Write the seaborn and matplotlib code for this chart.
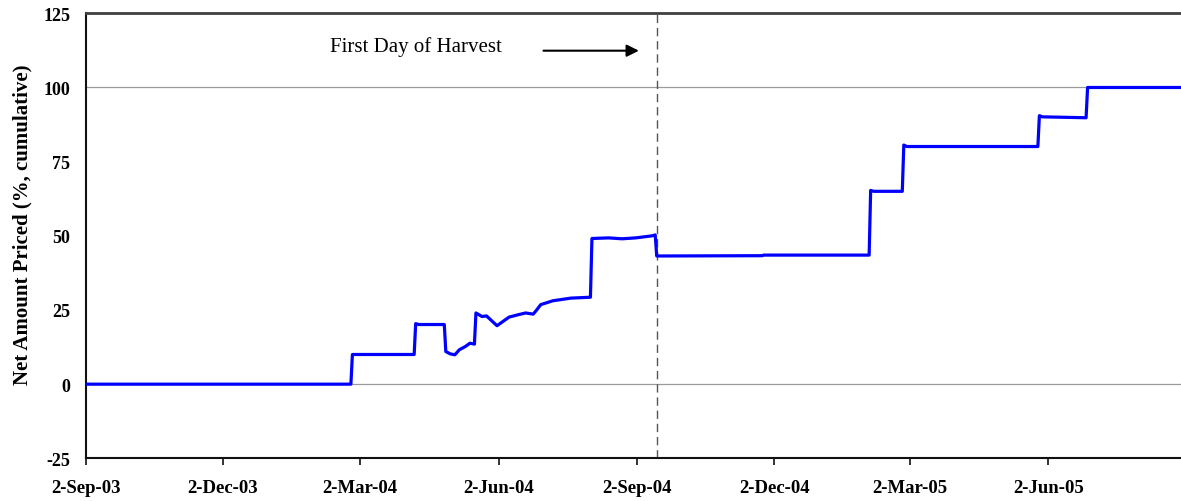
import pandas as pd
import matplotlib
matplotlib.use("Agg")
import matplotlib.pyplot as plt
import seaborn as sns

# cumulative net amount priced
dates = ["2003-09-02", "2004-02-25", "2004-02-26", "2004-04-07", "2004-04-08",
         "2004-04-10", "2004-04-27", "2004-04-28", "2004-05-01", "2004-05-04",
         "2004-05-07", "2004-05-11", "2004-05-14", "2004-05-17", "2004-05-18",
         "2004-05-22", "2004-05-25", "2004-06-01", "2004-06-04", "2004-06-09",
         "2004-06-15", "2004-06-20", "2004-06-25", "2004-06-27", "2004-06-30",
         "2004-07-08", "2004-07-20", "2004-08-02", "2004-08-03", "2004-08-14",
         "2004-08-23", "2004-09-01", "2004-09-12", "2004-09-14", "2004-09-15",
         "2004-11-24", "2004-11-25", "2005-02-03", "2005-02-04", "2005-02-06",
         "2005-02-25", "2005-02-26", "2005-02-28", "2005-05-26", "2005-05-27",
         "2005-05-29", "2005-06-27", "2005-06-28", "2005-08-31"]
amount = [0, 0, 10, 10, 20.4,
          20.1, 20.1, 11.0, 10.2, 9.9,
          11.6, 12.7, 13.8, 13.5, 24.0,
          22.8, 23.0, 19.7, 20.8, 22.6,
          23.4, 24.0, 23.6, 24.8, 26.8,
          28.1, 29.0, 29.3, 49.1, 49.3,
          49.0, 49.3, 50.0, 50.3, 43.2,
          43.3, 43.5, 43.5, 65.3, 65.0,
          65.0, 80.6, 80.1, 80.1, 90.5,
          90.1, 89.8, 100, 100]

tick_dates = ["2003-09-02", "2003-12-02", "2004-03-02", "2004-06-02",
              "2004-09-02", "2004-12-02", "2005-03-02", "2005-06-02"]
tick_labels = ["2-Sep-03", "2-Dec-03", "2-Mar-04", "2-Jun-04",
               "2-Sep-04", "2-Dec-04", "2-Mar-05", "2-Jun-05"]
y_ticks = [-25, 0, 25, 50, 75, 100, 125]

harvest_day = "2004-09-15"

df = pd.DataFrame({"Date": pd.to_datetime(dates), "Priced": amount})

sns.set_style("white")
plt.rcParams['font.family'] = ['Liberation Serif', 'DejaVu Serif']
plt.rcParams['text.color'] = 'black'
plt.rcParams['axes.labelcolor'] = 'black'
plt.rcParams['xtick.color'] = 'black'
plt.rcParams['ytick.color'] = 'black'

fig = plt.figure(figsize=(11.81, 5.02), dpi=100)
ax = fig.add_axes([0.0726, 0.085, 0.9274, 0.8865])

ax.axhline(0, color='#9a9a9a', lw=0.9, zorder=1)
ax.axhline(100, color='#9a9a9a', lw=0.9, zorder=1)
ax.axvline(pd.Timestamp(harvest_day), color='#555555', lw=1.0,
           dashes=(6, 3.5), zorder=1)

sns.lineplot(x="Date", y="Priced", data=df, ax=ax, color='#0000ff',
             lw=2.3, zorder=3)

ax.set_xlim(pd.Timestamp("2003-09-02"), pd.Timestamp("2005-08-29"))
ax.set_ylim(-25, 125)
ax.set_yticks(y_ticks)
ax.set_yticklabels([str(v) for v in y_ticks], fontsize=13, fontweight='bold')
ax.set_xticks(pd.to_datetime(tick_dates))
ax.set_xticklabels(tick_labels, fontsize=13.5, fontweight='bold')
ax.tick_params(axis='y', length=0, pad=11)
ax.tick_params(axis='x', length=5, width=1.2, direction='out', pad=10,
               bottom=True, color='#111111')

ax.set_xlabel('')
ax.set_ylabel('Net Amount Priced (%, cumulative)', fontsize=15,
              fontweight='bold', va='center')
ax.yaxis.set_label_coords(-0.058, 0.527)

for side in ['left', 'bottom']:
    ax.spines[side].set_color('#111111')
    ax.spines[side].set_linewidth(1.5)
ax.spines['top'].set_color('#404040')
ax.spines['top'].set_linewidth(2.0)
ax.spines['right'].set_visible(False)

ax.text(pd.Timestamp("2004-02-11"), 112.2, 'First Day of Harvest',
        fontsize=15, ha='left', va='baseline', color='black')
ax.annotate('', xy=(pd.Timestamp("2004-09-05"), 112.4),
            xytext=(pd.Timestamp("2004-06-30"), 112.4),
            arrowprops=dict(arrowstyle='-|>', color='black', lw=1.5,
                            mutation_scale=18))

fig.savefig("out.png", dpi=100)
